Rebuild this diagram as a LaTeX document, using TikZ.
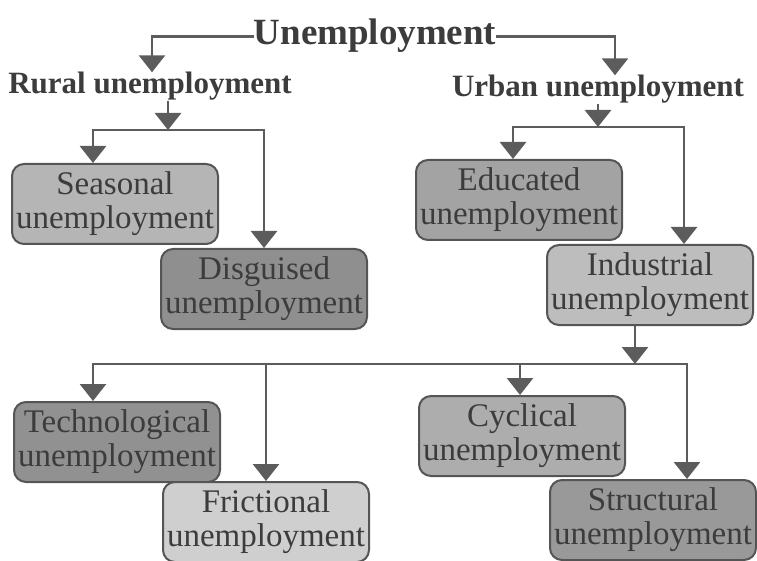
\documentclass[tikz,border=0pt]{standalone}
\usepackage{fontspec}
\setmainfont{Liberation Serif}
\usepackage{xcolor}
\usetikzlibrary{positioning, arrows.meta}
\definecolor{linkgray}{HTML}{5C5C5C}
\definecolor{edgegray}{HTML}{555555}
\definecolor{textgray}{HTML}{3C3C3C}

\begin{document}
\begin{tikzpicture}[
            x=1pt, y=-1pt,
            link/.style={draw=linkgray, line width=2.8pt},
            arr/.style={link, -{Triangle[width=26pt, length=17pt]}},
            kind/.style={draw=edgegray, line width=2pt, rounded corners=12pt, text=textgray,
                align=center, minimum width=206pt, minimum height=80pt, inner sep=2pt,
                font=\fontsize{33}{34}\selectfont},
            head/.style={text=textgray, inner sep=0pt, anchor=base},
        ]
            \useasboundingbox (0,0) rectangle (757,561);

            \node[head, font=\bfseries\fontsize{37}{37}\selectfont] (unemp) at (375,45) {Unemployment};
            \node[head, font=\bfseries\fontsize{31}{31}\selectfont] (rural) at (150,94) {Rural unemployment};
            \node[head, font=\bfseries\fontsize{31}{31}\selectfont] (urban) at (598,97) {Urban unemployment};

            \node[kind, fill=black!29] (seasonal) at (115,204) {Seasonal\\unemployment};
            \node[kind, fill=black!44] (disguised) at (264,289) {Disguised\\unemployment};
            \node[kind, fill=black!36] (educated) at (519,200) {Educated\\unemployment};
            \node[kind, fill=black!26] (industrial) at (650,285) {Industrial\\unemployment};
            \node[kind, fill=black!43] (technological) at (117,442) {Technological\\unemployment};
            \node[kind, fill=black!19] (frictional) at (266,522) {Frictional\\unemployment};
            \node[kind, fill=black!32] (cyclical) at (522,436) {Cyclical\\unemployment};
            \node[kind, fill=black!40] (structural) at (653,520) {Structural\\unemployment};

            \coordinate (rj) at (168,130);
            \coordinate (uj) at (598,127);
            \coordinate (ij) at (635,364);

            \draw[arr] (unemp.west) -| ([xshift=2pt]rural.north);
            \draw[arr] (unemp.east) -| ([xshift=17pt]urban.north);

            \draw[arr] (rural.south -| rj) -- (rj);
            \draw[arr] (rj) -| ([xshift=-22pt]seasonal.north);
            \draw[arr] (rj) -| (disguised.north);

            \draw[arr] (urban.south -| uj) -- (uj);
            \draw[arr] (uj) -| ([xshift=-6pt]educated.north);
            \draw[arr] (uj) -| ([xshift=34pt]industrial.north);

            \draw[arr] (industrial.south -| ij) -- (ij);
            \draw[arr] (ij) -| ([xshift=-24pt]technological.north);
            \draw[arr] (ij) -| (frictional.north);
            \draw[arr] (ij) -| ([xshift=-2pt]cyclical.north);
            \draw[arr] (ij) -| ([xshift=34pt]structural.north);
        \end{tikzpicture}
\end{document}
